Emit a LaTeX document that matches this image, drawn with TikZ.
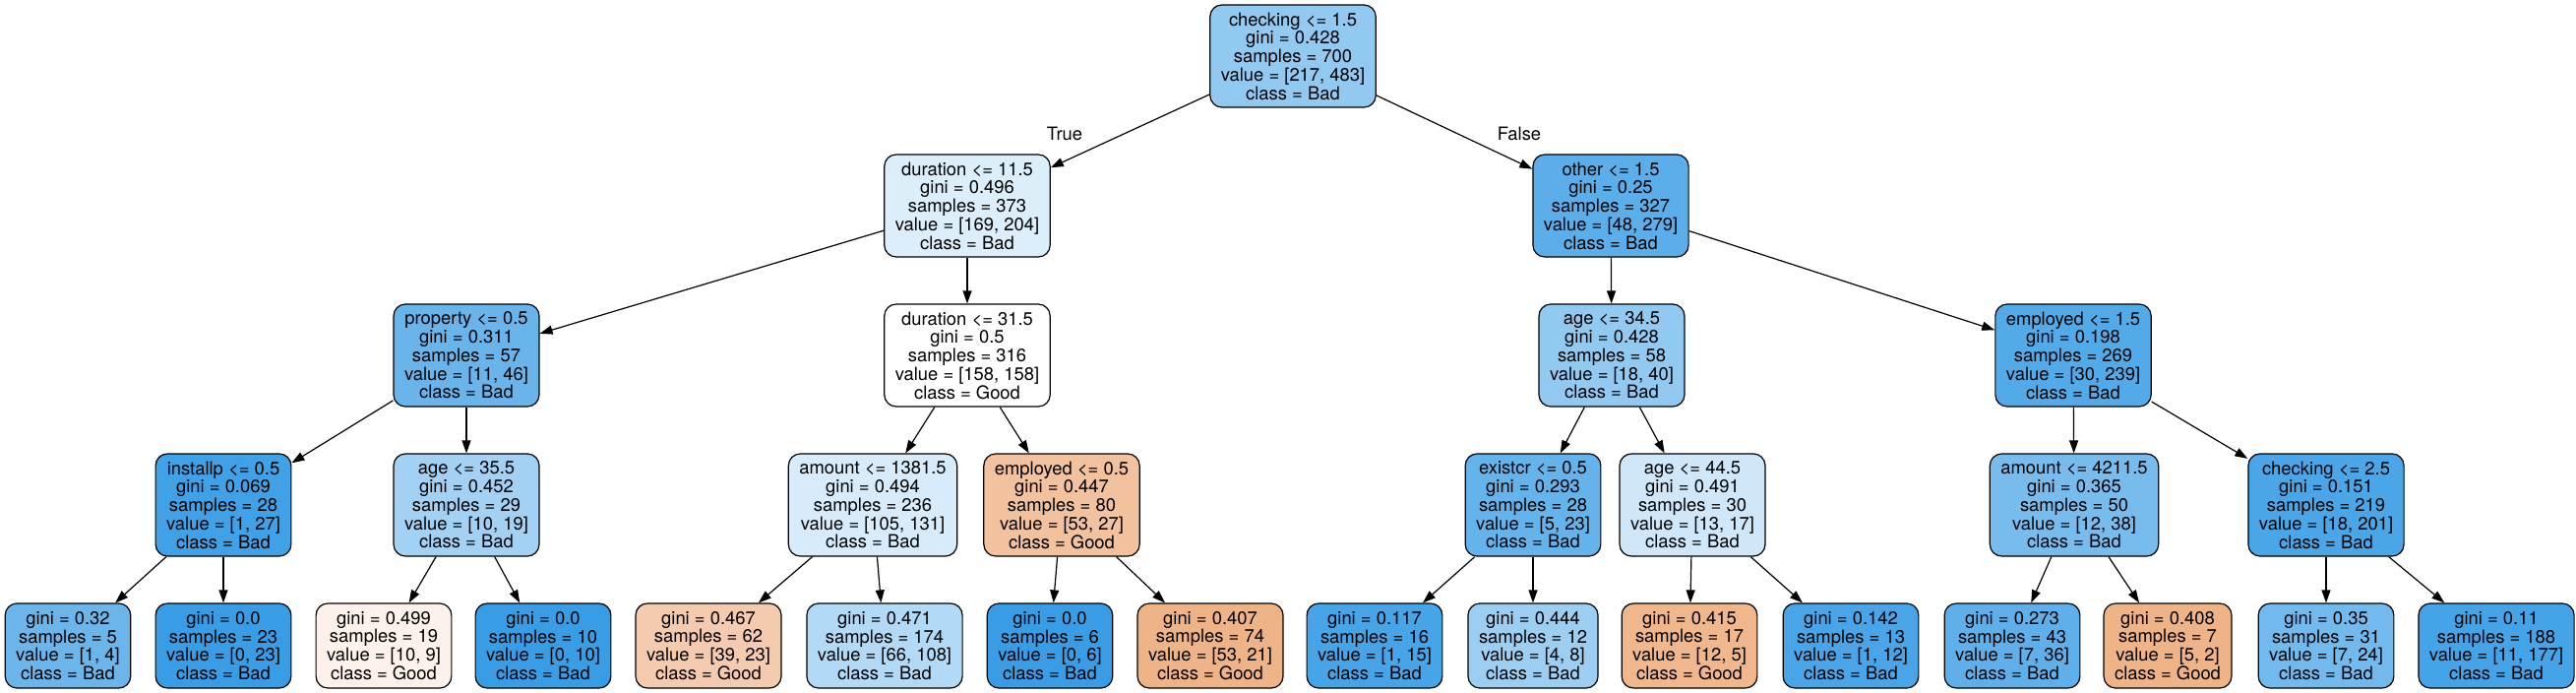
\documentclass[tikz,border=0pt]{standalone}
\usepackage{fontspec}
\setmainfont{TeX Gyre Heros}
\usetikzlibrary{arrows.meta}
\definecolor{bad}{HTML}{399DE5}
\definecolor{good}{HTML}{E58139}
\begin{document}
\begin{tikzpicture}[x=1pt,y=-1pt,
  tn/.style={draw=black, line width=1.2pt, rounded corners=12pt, align=center,
    font=\fontsize{18.4}{18.75}\selectfont, inner xsep=11pt, inner ysep=0pt, minimum height=104pt},
  lf/.style={tn, minimum height=86pt},
  edge/.style={line width=1.2pt, -{Triangle[length=13pt,width=9pt]}},
  elab/.style={font=\fontsize{18.4}{18.75}\selectfont}]
\useasboundingbox (0,0) rectangle (2618,704);
% level 0
\node[tn, fill=bad!55] (n0) at (1314,57) {checking <= 1.5\\gini = 0.428\\samples = 700\\value = [217, 483]\\class = Bad};
% level 1
\node[tn, fill=bad!17] (n1) at (983,209) {duration <= 11.5\\gini = 0.496\\samples = 373\\value = [169, 204]\\class = Bad};
\node[tn, fill=bad!83] (n2) at (1637,209) {other <= 1.5\\gini = 0.25\\samples = 327\\value = [48, 279]\\class = Bad};
% level 2
\node[tn, fill=bad!76] (n3) at (474,361) {property <= 0.5\\gini = 0.311\\samples = 57\\value = [11, 46]\\class = Bad};
\node[tn, fill=white] (n4) at (983,361) {duration <= 31.5\\gini = 0.5\\samples = 316\\value = [158, 158]\\class = Good};
\node[tn, fill=bad!55] (n5) at (1638,361) {age <= 34.5\\gini = 0.428\\samples = 58\\value = [18, 40]\\class = Bad};
\node[tn, fill=bad!87] (n6) at (2107,361) {employed <= 1.5\\gini = 0.198\\samples = 269\\value = [30, 239]\\class = Bad};
% level 3
\node[tn, fill=bad!96] (n7) at (227,513) {installp <= 0.5\\gini = 0.069\\samples = 28\\value = [1, 27]\\class = Bad};
\node[tn, fill=bad!47] (n8) at (474,513) {age <= 35.5\\gini = 0.452\\samples = 29\\value = [10, 19]\\class = Bad};
\node[tn, fill=bad!20] (n9) at (887,513) {amount <= 1381.5\\gini = 0.494\\samples = 236\\value = [105, 131]\\class = Bad};
\node[tn, fill=good!49] (n10) at (1079,513) {employed <= 0.5\\gini = 0.447\\samples = 80\\value = [53, 27]\\class = Good};
\node[tn, fill=bad!78] (n11) at (1558,513) {existcr <= 0.5\\gini = 0.293\\samples = 28\\value = [5, 23]\\class = Bad};
\node[tn, fill=bad!24] (n12) at (1720,513) {age <= 44.5\\gini = 0.491\\samples = 30\\value = [13, 17]\\class = Bad};
\node[tn, fill=bad!68] (n13) at (2108,513) {amount <= 4211.5\\gini = 0.365\\samples = 50\\value = [12, 38]\\class = Bad};
\node[tn, fill=bad!91] (n14) at (2364,513) {checking <= 2.5\\gini = 0.151\\samples = 219\\value = [18, 201]\\class = Bad};
% leaves
\node[lf, fill=bad!75] (l1) at (69,656) {gini = 0.32\\samples = 5\\value = [1, 4]\\class = Bad};
\node[lf, fill=bad] (l2) at (227,656) {gini = 0.0\\samples = 23\\value = [0, 23]\\class = Bad};
\node[lf, fill=good!10] (l3) at (390,656) {gini = 0.499\\samples = 19\\value = [10, 9]\\class = Good};
\node[lf, fill=bad] (l4) at (552,656) {gini = 0.0\\samples = 10\\value = [0, 10]\\class = Bad};
\node[lf, fill=good!41] (l5) at (720,656) {gini = 0.467\\samples = 62\\value = [39, 23]\\class = Good};
\node[lf, fill=bad!39] (l6) at (899,656) {gini = 0.471\\samples = 174\\value = [66, 108]\\class = Bad};
\node[lf, fill=bad] (l7) at (1067,656) {gini = 0.0\\samples = 6\\value = [0, 6]\\class = Bad};
\node[lf, fill=good!60] (l8) at (1230,656) {gini = 0.407\\samples = 74\\value = [53, 21]\\class = Good};
\node[lf, fill=bad!93] (l9) at (1397,656) {gini = 0.117\\samples = 16\\value = [1, 15]\\class = Bad};
\node[lf, fill=bad!50] (l10) at (1558,656) {gini = 0.444\\samples = 12\\value = [4, 8]\\class = Bad};
\node[lf, fill=good!58] (l11) at (1717,656) {gini = 0.415\\samples = 17\\value = [12, 5]\\class = Good};
\node[lf, fill=bad!92] (l12) at (1881,656) {gini = 0.142\\samples = 13\\value = [1, 12]\\class = Bad};
\node[lf, fill=bad!81] (l13) at (2045,656) {gini = 0.273\\samples = 43\\value = [7, 36]\\class = Bad};
\node[lf, fill=good!60] (l14) at (2203,656) {gini = 0.408\\samples = 7\\value = [5, 2]\\class = Good};
\node[lf, fill=bad!71] (l15) at (2364,656) {gini = 0.35\\samples = 31\\value = [7, 24]\\class = Bad};
\node[lf, fill=bad!94] (l16) at (2537,656) {gini = 0.11\\samples = 188\\value = [11, 177]\\class = Bad};
% edge labels
\node[elab] (tl) at (1082,136) {True};
\node[elab] (fl) at (1544,136) {False};
% edges
\draw[edge] (n0) -- (n1);
\draw[edge] (n0) -- (n2);
\draw[edge] (n1) -- (n3);
\draw[edge] (n1) -- (n4);
\draw[edge] (n2) -- (n5);
\draw[edge] (n2) -- (n6);
\draw[edge] (n3) -- (n7);
\draw[edge] (n3) -- (n8);
\draw[edge] (n4) -- (n9);
\draw[edge] (n4) -- (n10);
\draw[edge] (n5) -- (n11);
\draw[edge] (n5) -- (n12);
\draw[edge] (n6) -- (n13);
\draw[edge] (n6) -- (n14);
\draw[edge] (n7) -- (l1);
\draw[edge] (n7) -- (l2);
\draw[edge] (n8) -- (l3);
\draw[edge] (n8) -- (l4);
\draw[edge] (n9) -- (l5);
\draw[edge] (n9) -- (l6);
\draw[edge] (n10) -- (l7);
\draw[edge] (n10) -- (l8);
\draw[edge] (n11) -- (l9);
\draw[edge] (n11) -- (l10);
\draw[edge] (n12) -- (l11);
\draw[edge] (n12) -- (l12);
\draw[edge] (n13) -- (l13);
\draw[edge] (n13) -- (l14);
\draw[edge] (n14) -- (l15);
\draw[edge] (n14) -- (l16);
\end{tikzpicture}
\end{document}
